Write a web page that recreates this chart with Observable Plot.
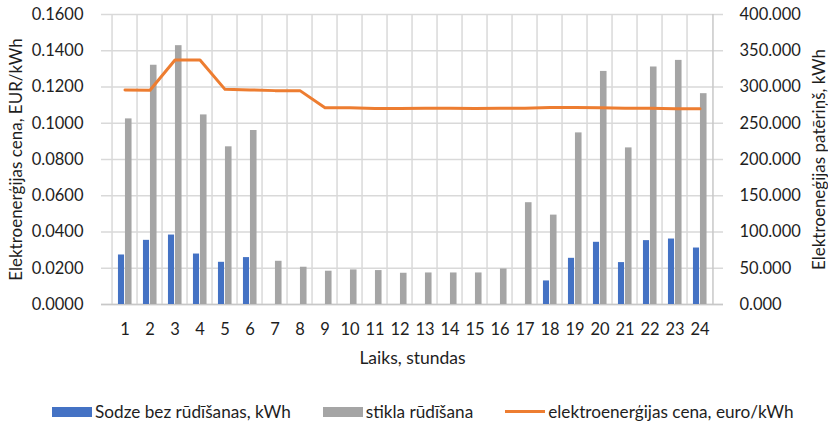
<!DOCTYPE html>
<html><head><meta charset="utf-8">
<script src="https://cdn.jsdelivr.net/npm/d3@7"></script>
<script src="https://cdn.jsdelivr.net/npm/@observablehq/plot@0.6"></script>
<style>
body{margin:0;background:#fff;font-family:Lato,"Open Sans",sans-serif;color:#1e1e1e}
#legend{position:relative;height:45px;margin-top:9px;width:828px;display:flex;align-items:center;padding-left:52px;box-sizing:border-box;font-size:17.2px;gap:32px}
.item{display:flex;align-items:center;gap:3px;white-space:nowrap}
.sw{width:40px;height:10px}
.ln{width:40px;height:3px}
</style>
</head><body><div id="chart"></div><div id="legend"></div>
<script>
const hours = [1,2,3,4,5,6,7,8,9,10,11,12,13,14,15,16,17,18,19,20,21,22,23,24];
const sodze = [68.3,88.5,95.8,69.6,58.2,64.7,0,0,0,0,0,0,0,0,0,0,0,32.5,63.7,85.8,57.8,88.1,90.3,77.9];
const stikla = [256,330,357,261.5,217.5,240,59.6,51.4,45.9,47.7,46.8,43.1,43.5,43.5,43.5,49,140.4,123.3,236.7,321.5,216,327.6,336.7,290.8];
const cena = [0.1184,0.1182,0.1349,0.1349,0.1187,0.1184,0.1180,0.1180,0.1085,0.1085,0.1081,0.1081,0.1083,0.1083,0.1081,0.1083,0.1083,0.1087,0.1087,0.1085,0.1083,0.1083,0.1080,0.1080];
const leftTicks = [0,0.02,0.04,0.06,0.08,0.1,0.12,0.14,0.16];
const rightTicks = [0,50,100,150,200,250,300,350,400];
const seriesNames = ["Sodze bez rūdīšanas, kWh","stikla rūdīšana","elektroenerģijas cena, euro/kWh"];
const yLabelLeft = "Elektroenerģijas cena, EUR/kWh";
const yLabelRight = "Elektroeneģijas patēriņš, kWh";
const xLabel = "Laiks, stundas";
const colors = ["#4472C4","#A5A5A5","#ED7D31"];

const k = 0.16/400;
const rows = hours.map((h,i)=>({hour:h, sodze:sodze[i], stikla:stikla[i], cena:cena[i]}));
const W=828,H=380,ML=101,MR=105,MT=14,MB=76;
const bw=(W-ML-MR)/hours.length;
const grid="#d9d9d9";
const ink="#1e1e1e";

const chart = Plot.plot({
  width:W,height:H,marginLeft:ML,marginRight:MR,marginTop:MT,marginBottom:MB,
  style:{fontFamily:"Lato, 'Open Sans', sans-serif",fontSize:"16.5px",color:ink,background:"#fff"},
  x:{type:"band",domain:hours,padding:0},
  y:{domain:[0,0.16]},
  marks:[
    Plot.ruleY(leftTicks,{stroke:grid,strokeWidth:1.5}),
    Plot.ruleX(hours,{x:d=>d,dx:-bw/2,stroke:grid,strokeWidth:1.5}),
    Plot.ruleX([hours[hours.length-1]],{x:d=>d,dx:bw/2,stroke:"#c8c8c8",strokeWidth:1.5}),
    Plot.ruleY([0],{stroke:"#c8c8c8",strokeWidth:1.5}),
    Plot.barY(rows.filter(d=>d.sodze>0),{x:"hour",y:d=>d.sodze*k,fill:colors[0],insetLeft:bw/2-7,insetRight:bw/2}),
    Plot.barY(rows,{x:"hour",y:d=>d.stikla*k,fill:colors[1],insetLeft:bw/2,insetRight:bw/2-7.5}),
    Plot.lineY(rows,{x:"hour",y:"cena",stroke:colors[2],strokeWidth:3}),
    Plot.axisY(leftTicks,{anchor:"left",tickSize:0,tickPadding:18,tickFormat:d=>d.toFixed(4),label:null,fill:ink}),
    Plot.axisY(rightTicks.map(v=>v*k),{anchor:"right",tickSize:0,tickPadding:16,tickFormat:d=>(d/k).toFixed(3),label:null,fill:ink}),
    Plot.axisX({tickSize:0,tickPadding:19,label:null,fill:ink}),
    Plot.text([yLabelLeft],{frameAnchor:"left",dx:-85,rotate:-90,textAnchor:"middle",lineAnchor:"middle",fontSize:17,fill:ink}),
    Plot.text([yLabelRight],{frameAnchor:"right",dx:96,rotate:-90,textAnchor:"middle",lineAnchor:"middle",fontSize:17,fill:ink}),
    Plot.text([xLabel],{frameAnchor:"bottom",dy:54,textAnchor:"middle",lineAnchor:"middle",fontSize:17.5,fill:ink})
  ]
});
document.getElementById("chart").append(chart);

const lg = document.getElementById("legend");
seriesNames.forEach((n,i)=>{
  const it=document.createElement("div");it.className="item";
  const s=document.createElement("div");s.className=i<2?"sw":"ln";s.style.background=colors[i];
  const t=document.createElement("span");t.textContent=n;
  it.append(s,t);lg.append(it);
});
</script></body></html>
